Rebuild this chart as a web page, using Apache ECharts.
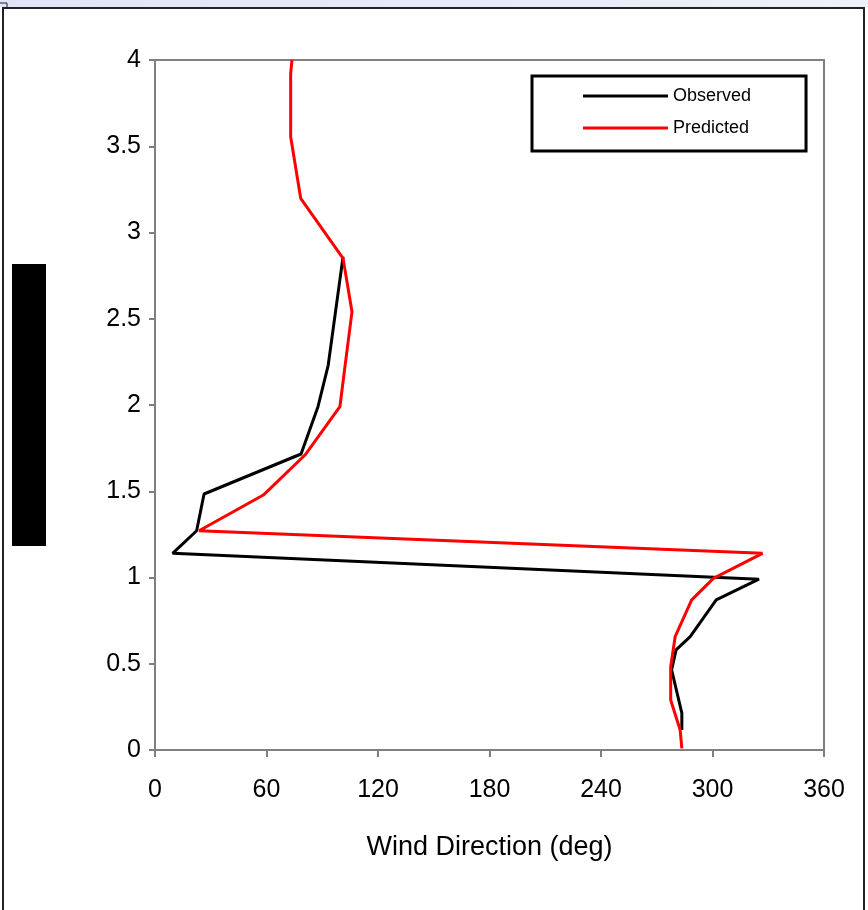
<!DOCTYPE html>
<html>
<head>
<meta charset="utf-8">
<script src="https://cdn.jsdelivr.net/npm/echarts@6/dist/echarts.min.js"></script>
<style>
html,body{margin:0;padding:0;background:#fff;}
#chart{width:868px;height:910px;}
</style>
</head>
<body>
<div id="chart"></div>
<script>
// Data
var seriesNames = ['Observed', 'Predicted'];
var obsDirection = [283.5, 283.5, 278, 280.4, 288, 302, 325, 9.5, 22.4, 26.4, 78.6, 87.7, 93.2, 101.2];
var obsHeight    = [0.116, 0.214, 0.464, 0.58, 0.657, 0.87, 0.99, 1.14, 1.271, 1.484, 1.716, 1.99, 2.23, 2.86];
var predDirection = [283.5, 282.6, 277.5, 277.5, 279.9, 288.8, 300.5, 326.9, 23.7, 58.3, 80.7, 99.5, 102.3, 106, 101.2, 78.4, 73, 73, 73.7];
var predHeight    = [0.01, 0.116, 0.29, 0.483, 0.657, 0.87, 0.995, 1.14, 1.271, 1.478, 1.71, 1.99, 2.23, 2.54, 2.85, 3.198, 3.555, 3.92, 4.0];
var xAxisTitle = 'Wind Direction (deg)';

function pairs(xs, ys) {
  var out = [];
  for (var i = 0; i < xs.length; i++) out.push([xs[i], ys[i]]);
  return out;
}

var chart = echarts.init(document.getElementById('chart'), null, {renderer: 'canvas'});
var font = '"Liberation Sans", Arial, sans-serif';
chart.setOption({
  backgroundColor: '#ffffff',
  animation: false,
  textStyle: {fontFamily: font},
  grid: {
    left: 155, right: 44, top: 60, bottom: 160,
    show: true, borderColor: '#808080', borderWidth: 2, backgroundColor: 'transparent'
  },
  legend: {
    show: true,
    left: 532, top: 76,
    orient: 'vertical',
    icon: 'rect',
    itemWidth: 85, itemHeight: 3, itemGap: 14,
    padding: [11, 55, 14, 51],
    borderColor: '#000', borderWidth: 3, backgroundColor: '#fff',
    textStyle: {fontFamily: font, fontSize: 18, color: '#000'},
    data: seriesNames
  },
  xAxis: {
    type: 'value', min: 0, max: 360, interval: 60,
    name: xAxisTitle, nameLocation: 'middle', nameGap: 84,
    nameTextStyle: {fontFamily: font, fontSize: 27, color: '#000'},
    axisLine: {show: true, lineStyle: {color: '#808080', width: 2}},
    axisTick: {show: true, inside: false, length: 7, lineStyle: {color: '#808080', width: 2}},
    axisLabel: {margin: 28, fontFamily: font, fontSize: 25, color: '#000'},
    splitLine: {show: false}
  },
  yAxis: {
    type: 'value', min: 0, max: 4, interval: 0.5,
    axisLine: {show: true, lineStyle: {color: '#808080', width: 2}},
    axisTick: {show: true, inside: false, length: 6, lineStyle: {color: '#808080', width: 2}},
    axisLabel: {margin: 14, fontFamily: font, fontSize: 25, color: '#000'},
    splitLine: {show: false}
  },
  series: [
    {
      name: seriesNames[0], type: 'line', showSymbol: false, symbol: 'none',
      lineStyle: {color: '#000000', width: 3}, itemStyle: {color: '#000000'},
      data: pairs(obsDirection, obsHeight), z: 3
    },
    {
      name: seriesNames[1], type: 'line', showSymbol: false, symbol: 'none',
      lineStyle: {color: '#ff0000', width: 3}, itemStyle: {color: '#ff0000'},
      data: pairs(predDirection, predHeight), z: 4
    }
  ],
  graphic: {
    elements: [
      {type: 'rect', shape: {x: 0, y: 0, width: 868, height: 7}, silent: true,
       style: {fill: new echarts.graphic.LinearGradient(0, 0, 1, 0, [{offset: 0, color: '#e1e4f6'}, {offset: 1, color: '#eef0fa'}])}},
      {type: 'polyline', shape: {points: [[3, 910], [3, 8], [864, 8], [864, 910]]}, silent: true,
       style: {stroke: '#222', lineWidth: 2, fill: null}},
      {type: 'polyline', shape: {points: [[0, 3], [7, 3], [7, 7]]}, silent: true,
       style: {stroke: '#222', lineWidth: 1, fill: null}},
      {type: 'rect', shape: {x: 12, y: 264, width: 34, height: 282}, silent: true,
       style: {fill: '#000'}}
    ]
  }
});
</script>
</body>
</html>
